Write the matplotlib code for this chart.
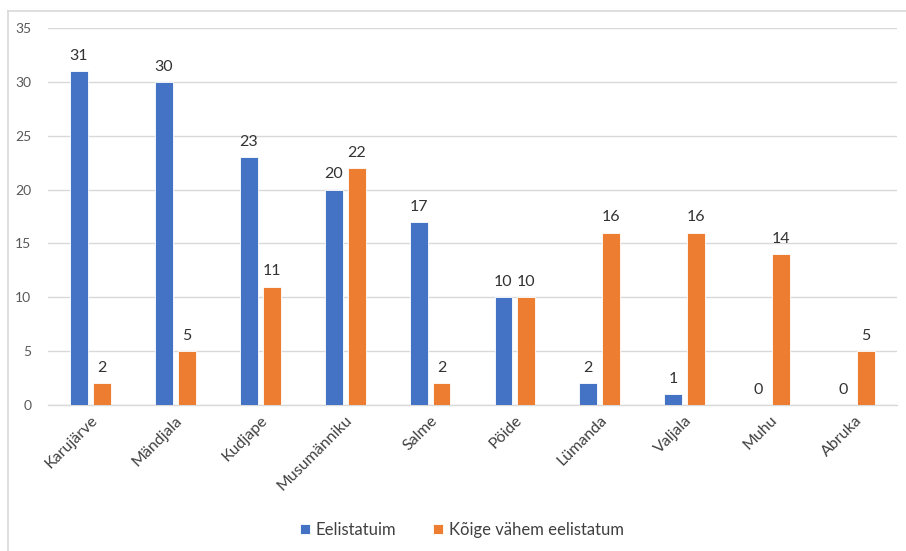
import matplotlib
matplotlib.use("Agg")
import matplotlib.pyplot as plt
from matplotlib.lines import Line2D
import numpy as np

categories = ["Karujärve", "Mändjala", "Kudjape", "Musumänniku", "Salme",
              "Pöide", "Lümanda", "Valjala", "Muhu", "Abruka"]
most_preferred = [31, 30, 23, 20, 17, 10, 2, 1, 0, 0]
least_preferred = [2, 5, 11, 22, 2, 10, 16, 16, 14, 5]
series_names = ["Eelistatuim", "Kõige vähem eelistatum"]
y_ticks = [0, 5, 10, 15, 20, 25, 30, 35]

plt.rcParams["font.family"] = ["Lato", "DejaVu Sans"]

BLUE = "#4472C4"
ORANGE = "#ED7D31"
GRID = "#D9D9D9"
TICK = "#595959"
LABEL = "#404040"

fig = plt.figure(figsize=(9.06, 5.51), dpi=100)
ax = fig.add_axes([48 / 906, 1 - 405 / 551, (897 - 48) / 906, (405 - 28) / 551])

x = np.arange(len(categories))
w = 0.21
off = 0.135
b1 = ax.bar(x - off, most_preferred, w, color=BLUE, edgecolor="white",
            linewidth=0.6, label=series_names[0], zorder=3)
b2 = ax.bar(x + off, least_preferred, w, color=ORANGE, edgecolor="white",
            linewidth=0.6, label=series_names[1], zorder=3)

for bars in (b1, b2):
    ax.bar_label(bars, padding=6, fontsize=11.5, color="#333333")

ax.set_xlim(-0.5, len(categories) - 0.5)
ax.set_ylim(0, 35)
ax.set_yticks(y_ticks)
ax.yaxis.grid(True, color=GRID, linewidth=1.0, zorder=0)
ax.set_axisbelow(True)
for s in ("top", "right", "left"):
    ax.spines[s].set_visible(False)
ax.spines["bottom"].set_color(GRID)
ax.spines["bottom"].set_linewidth(1.0)
ax.tick_params(axis="both", length=0, colors=TICK, labelsize=10)
ax.tick_params(axis="y", pad=12)
ax.set_xticks(x)
ax.set_xticklabels(categories, rotation=45, ha="right", rotation_mode="anchor",
                   fontsize=11.5, color=LABEL)
ax.tick_params(axis="x", pad=6)

leg = fig.legend(handles=[b1, b2], labels=series_names, loc="center",
                 bbox_to_anchor=(462 / 906, 1 - 530 / 551), ncol=2, frameon=False,
                 fontsize=12, handlelength=0.6, handleheight=0.6,
                 columnspacing=2.2, handletextpad=0.35)
for t in leg.get_texts():
    t.set_color(LABEL)

# chart area frame
fig.add_artist(Line2D([8 / 906, 1.0], [1 - 11 / 551, 1 - 11 / 551],
                      transform=fig.transFigure, color=GRID, linewidth=1.2))
fig.add_artist(Line2D([8 / 906, 8 / 906], [0.0, 1 - 11 / 551],
                      transform=fig.transFigure, color=GRID, linewidth=1.2))

fig.savefig("out.png", dpi=100)
